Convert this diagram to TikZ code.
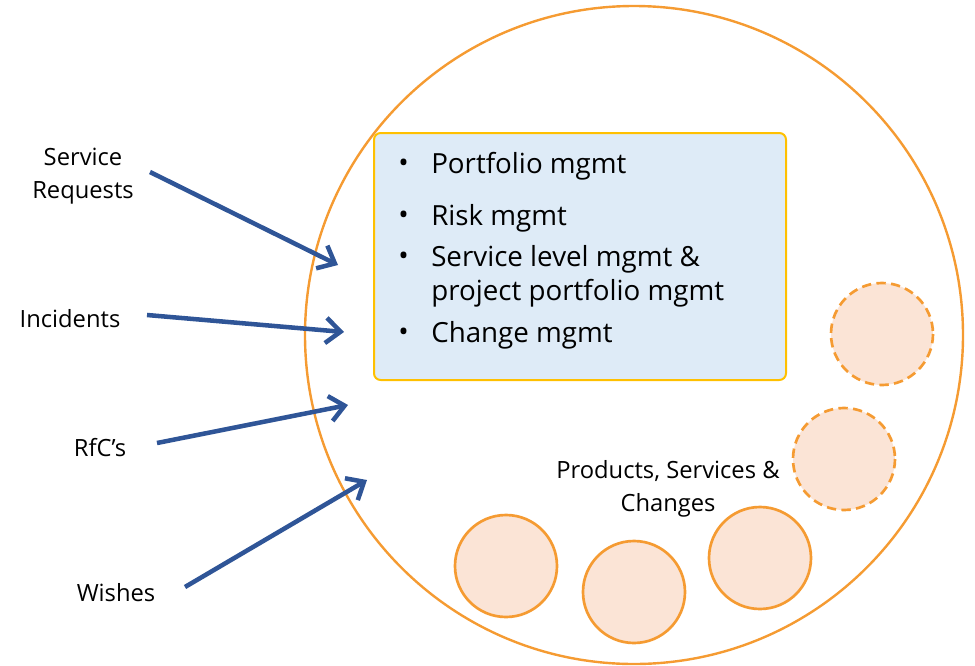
\documentclass[tikz,border=0pt]{standalone}
\usepackage{fontspec}
\setmainfont{Open Sans}
\usepackage{tikz}
\usetikzlibrary{arrows.meta}

\definecolor{ringorange}{RGB}{245,155,50}
\definecolor{blobfill}{RGB}{251,228,214}
\definecolor{boxfill}{RGB}{222,235,247}
\definecolor{boxline}{RGB}{255,192,0}
\definecolor{arrowblue}{RGB}{47,85,151}

\tikzset{
  inlabel/.style={inner sep=0.75pt, align=center, font=\fontsize{17.8}{24.5}\selectfont},
  item/.style={anchor=west, inner sep=0.75pt, font=\fontsize{20.8}{25}\selectfont},
  blob/.style={draw=ringorange, line width=2pt, fill=blobfill},
  inarrow/.style={draw=arrowblue, line width=3.4pt, -{Straight Barb[length=11pt, width=19pt, line width=3.4pt]}}
}

\begin{document}
\begin{tikzpicture}[x=0.75pt,y=0.75pt,yscale=-1,xscale=1]
\useasboundingbox (0,0) rectangle (975,665);

%Shape: big ring
\draw [ringorange, line width=1.8pt] (634,335) circle [radius=329];

%Shape: Rectangle with the management tasks
\draw [boxline, fill=boxfill, line width=1.5pt, rounded corners=5pt] (374,133) rectangle (786,380);

% Text Node
\node (b1) [item] at (397,166) {•};
\node (t1) [item] at (430,166) {Portfolio mgmt};
\node (b2) [item] at (397,218) {•};
\node (t2) [item] at (430,218) {Risk mgmt};
\node (b3) [item] at (397,259) {•};
\node (t3) [item] at (430,259) {Service level mgmt \&};
\node (t3b) [item] at (430,293) {project portfolio mgmt};
\node (b4) [item] at (397,335) {•};
\node (t4) [item] at (430,335) {Change mgmt};

%Shape: dashed circles
\draw [blob, dashed, dash pattern=on 7pt off 4pt] (882,334) circle [radius=51];
\draw [blob, dashed, dash pattern=on 7pt off 4pt] (844,459) circle [radius=51];
%Shape: solid circles
\draw [blob] (506,566) circle [radius=51];
\draw [blob] (634,592) circle [radius=51];
\draw [blob] (760,558) circle [radius=51];

% Text Node
\node (out) [inlabel] at (668,489) {Products, Services \&\\Changes};

% Text Node
\node (req) [inlabel] at (83,176) {Service\\Requests};
\node (inc) [inlabel] at (70,319) {Incidents};
\node (rfc) [inlabel] at (100,448) {RfC’s};
\node (wish) [inlabel] at (116,593) {Wishes};

%Straight Lines: the inputs
\coordinate (reqS) at (150,172);
\coordinate (reqE) at (338,265);
\coordinate (incS) at (147,315);
\coordinate (incE) at (344,332);
\coordinate (rfcS) at (157,443);
\coordinate (rfcE) at (348,405);
\coordinate (wishS) at (185,587);
\coordinate (wishE) at (367,480);
\draw [inarrow] (reqS) -- (reqE);
\draw [inarrow] (incS) -- (incE);
\draw [inarrow] (rfcS) -- (rfcE);
\draw [inarrow] (wishS) -- (wishE);
\end{tikzpicture}
\end{document}
